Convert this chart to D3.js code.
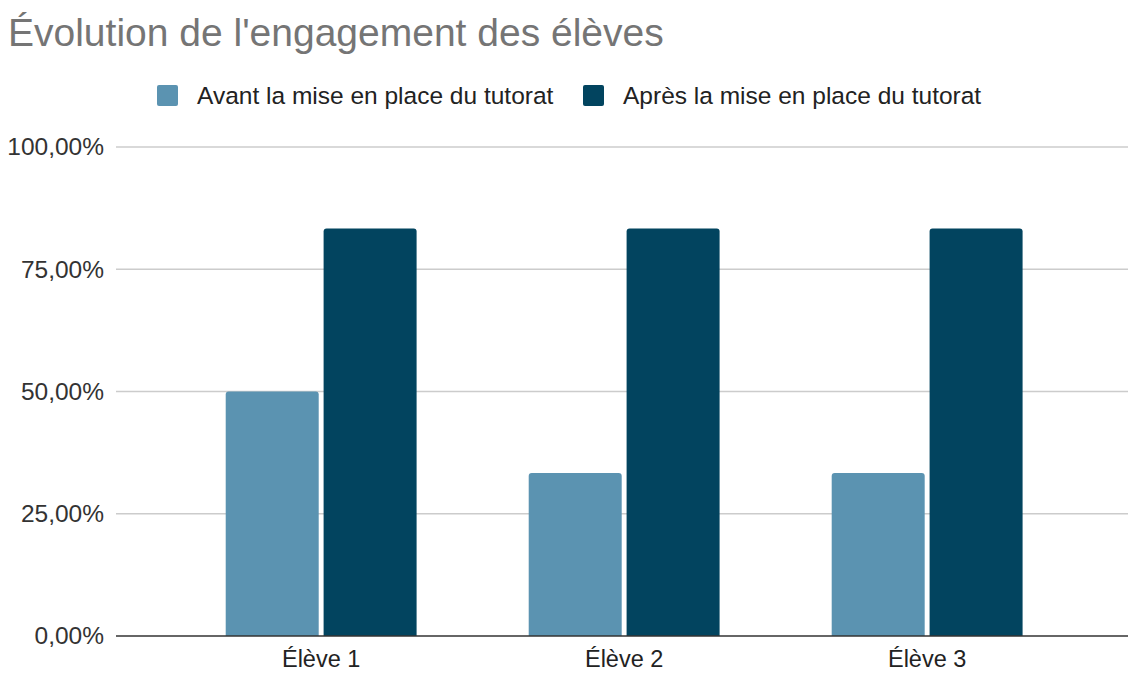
<!DOCTYPE html>
<html><head><meta charset="utf-8">
<script src="https://cdn.jsdelivr.net/npm/d3@7"></script>
<style>body{margin:0;background:#fff}svg{display:block}</style>
</head><body>
<svg id="c" width="1130" height="673"></svg>
<script>
const categories = ["Élève 1", "Élève 2", "Élève 3"];
const seriesNames = ["Avant la mise en place du tutorat", "Après la mise en place du tutorat"];
const avant = [0.5, 0.3333, 0.3333];
const apres = [0.8333, 0.8333, 0.8333];
const yTicks = [0, 0.25, 0.5, 0.75, 1];
const colors = ["#5b93b1", "#02445f"];

(function () {
const svg = d3.select("#c");
const font = "Liberation Sans, Arial, sans-serif";
const pLeft = 116, pRight = 1128, pTop = 147, pBottom = 636;

const y = d3.scaleLinear().domain([0, 1]).range([pBottom, pTop]);
const x0 = d3.scaleBand().domain(categories).range([pLeft, pRight])
  .paddingInner(0.37).paddingOuter(0.355).align(0.51);
const x1 = d3.scaleBand().domain([0, 1]).range([0, x0.bandwidth()]).paddingInner(0.05);

svg.append("text").attr("x", 8).attr("y", 46).attr("font-family", font).attr("font-size", 39)
  .attr("fill", "#757575").text("Évolution de l'engagement des élèves");

// legend
const leg = [{x: 157, tx: 197}, {x: 583, tx: 623}];
seriesNames.forEach((n, i) => {
  svg.append("rect").attr("x", leg[i].x).attr("y", 85).attr("width", 21).attr("height", 21).attr("rx", 2).attr("fill", colors[i]);
  svg.append("text").attr("x", leg[i].tx).attr("y", 104).attr("font-family", font).attr("font-size", 24.5).attr("fill", "#222").text(n);
});

// grid + y labels
const fmt = v => d3.format(".2f")(v * 100).replace(".", ",") + "%";
const yAxis = d3.axisLeft(y).tickValues(yTicks).tickSize(0).tickPadding(12).tickFormat(fmt);
const ga = svg.append("g").attr("transform", `translate(${pLeft},0)`).call(yAxis);
ga.select(".domain").remove();
ga.selectAll("text").attr("font-family", font).attr("font-size", 24.5).attr("fill", "#333");
svg.append("g").selectAll("line").data(yTicks.filter(d => d > 0)).join("line")
  .attr("x1", pLeft).attr("x2", pRight).attr("y1", d => y(d)).attr("y2", d => y(d))
  .attr("stroke", "#cccccc").attr("stroke-width", 1.3);

// bars
const data = categories.map((c, i) => ({c, v: [avant[i], apres[i]]}));
const r = 3;
function barPath(xx, w, yy, h) {
  return `M${xx},${yy + h}V${yy + r}Q${xx},${yy} ${xx + r},${yy}H${xx + w - r}Q${xx + w},${yy} ${xx + w},${yy + r}V${yy + h}Z`;
}
svg.append("g").selectAll("g").data(data).join("g")
  .attr("transform", d => `translate(${x0(d.c)},0)`)
  .selectAll("path").data(d => d.v.map((v, k) => ({v, k}))).join("path")
  .attr("d", d => barPath(x1(d.k), x1.bandwidth(), y(d.v), pBottom - y(d.v)))
  .attr("fill", d => colors[d.k]);

// baseline
svg.append("line").attr("x1", pLeft).attr("x2", pRight).attr("y1", pBottom).attr("y2", pBottom)
  .attr("stroke", "#333").attr("stroke-width", 1.5);

// x axis
const xAxis = d3.axisBottom(x0).tickSize(0).tickPadding(14);
const gx = svg.append("g").attr("transform", `translate(0,${pBottom})`).call(xAxis);
gx.select(".domain").remove();
gx.selectAll("text").attr("font-family", font).attr("font-size", 23.5).attr("fill", "#222");
})();
</script>
</body></html>
